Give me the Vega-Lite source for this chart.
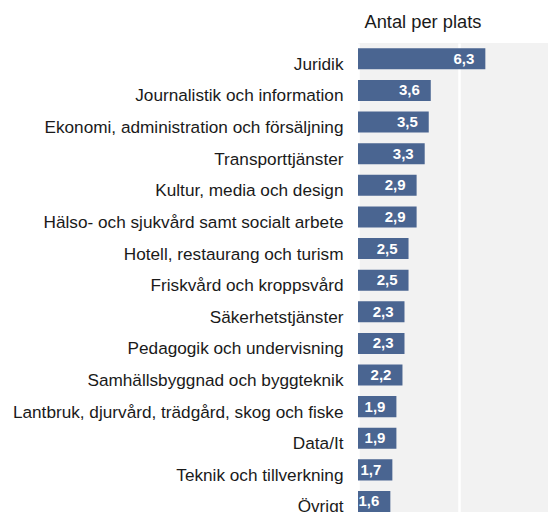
{
  "$schema": "https://vega.github.io/schema/vega-lite/v6.json",
  "autosize": {"type": "none"},
  "padding": {"left": 358, "top": 43, "right": 0, "bottom": 0},
  "width": 190,
  "height": 469,
  "background": "white",
  "config": {
    "font": "Liberation Sans",
    "view": {"fill": "#f2f2f2", "stroke": null},
    "locale": {"number": {"decimal": ",", "thousands": " ", "grouping": [3], "currency": ["", " kr"]}}
  },
  "data": {
    "values": [
      {"omrade": "Juridik", "antal": 6.3},
      {"omrade": "Journalistik och information", "antal": 3.6},
      {"omrade": "Ekonomi, administration och försäljning", "antal": 3.5},
      {"omrade": "Transporttjänster", "antal": 3.3},
      {"omrade": "Kultur, media och design", "antal": 2.9},
      {"omrade": "Hälso- och sjukvård samt socialt arbete", "antal": 2.9},
      {"omrade": "Hotell, restaurang och turism", "antal": 2.5},
      {"omrade": "Friskvård och kroppsvård", "antal": 2.5},
      {"omrade": "Säkerhetstjänster", "antal": 2.3},
      {"omrade": "Pedagogik och undervisning", "antal": 2.3},
      {"omrade": "Samhällsbyggnad och byggteknik", "antal": 2.2},
      {"omrade": "Lantbruk, djurvård, trädgård, skog och fiske", "antal": 1.9},
      {"omrade": "Data/It", "antal": 1.9},
      {"omrade": "Teknik och tillverkning", "antal": 1.7},
      {"omrade": "Övrigt", "antal": 1.6}
    ]
  },
  "encoding": {
    "y": {
      "field": "omrade",
      "type": "nominal",
      "sort": null,
      "scale": {"paddingInner": 0.335, "paddingOuter": 0.084, "align": 1},
      "axis": {
        "title": null,
        "ticks": false,
        "domain": false,
        "labelFontSize": 17.2,
        "labelColor": "#1a1a1a",
        "labelPadding": 15,
        "labelLimit": 0,
        "labelOffset": 6,
        "labelBaseline": "middle"
      }
    },
    "x": {
      "field": "antal",
      "type": "quantitative",
      "scale": {"domain": [0, 9.4], "nice": false},
      "axis": {
        "orient": "top",
        "values": [0, 5],
        "labels": false,
        "ticks": false,
        "domain": false,
        "grid": true,
        "gridColor": "white",
        "gridWidth": 2.5,
        "gridOpacity": 1,
        "title": "Antal per plats",
        "titleFontSize": 18.3,
        "titleFontWeight": "normal",
        "titleColor": "#1a1a1a",
        "titleAlign": "left",
        "titleAnchor": "start",
        "titleBaseline": "alphabetic",
        "titleX": 6,
        "titleY": -16
      }
    }
  },
  "layer": [
    {"mark": {"type": "bar", "color": "#4a6591"}},
    {
      "mark": {"type": "text", "align": "right", "baseline": "middle", "dx": -11, "color": "white", "fontWeight": "bold", "fontSize": 15},
      "encoding": {"text": {"field": "antal", "type": "quantitative", "format": ".1f"}}
    }
  ]
}
